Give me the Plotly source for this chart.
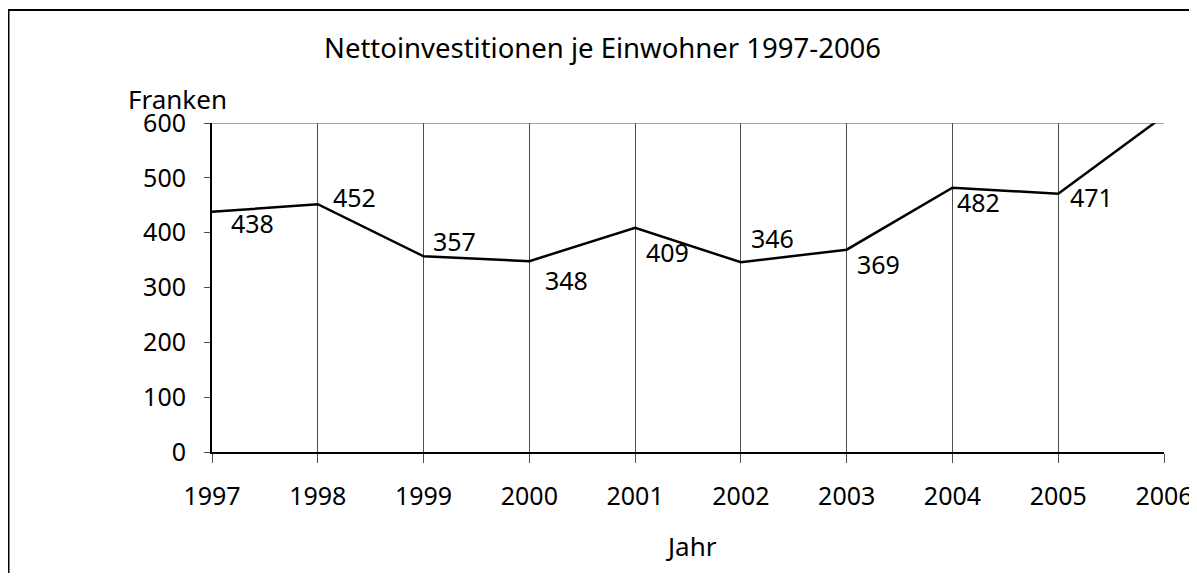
import plotly.graph_objects as go

years = [1997, 1998, 1999, 2000, 2001, 2002, 2003, 2004, 2005, 2006]
values = [438, 452, 357, 348, 409, 346, 369, 482, 471, 613]
y_ticks = [0, 100, 200, 300, 400, 500, 600]
title_text = "Nettoinvestitionen je Einwohner 1997-2006"
y_title = "Franken"
x_title = "Jahr"

# label offsets in pixels (style only)
label_dx = [40, 37, 31, 37, 32, 32, 32, 26, 33, -22]
label_dy = [11, -7, -15, 19, 24, -24, 14, 14, 3, -11]

FONT = "Noto Sans"
OFF = 8  # page body margin
WE, H = 1197 - OFF, 581 - 2 * OFF   # effective drawing size (no vertical overflow)
W = WE + OFF
L, T = 212 - OFF, 123 - OFF
R = WE - (1164 - OFF)
B = H - (452 - OFF)
pw, ph = WE - L - R, H - T - B


def pp(xs, ys):
    """screen pixel -> paper coords"""
    xf, yf = xs - OFF, ys - OFF
    return (xf - L) / pw, 1 - (yf - T) / ph


fig = go.Figure()
fig.add_trace(go.Scatter(x=years, y=values, mode="lines",
                         line=dict(color="black", width=2.5),
                         hoverinfo="x+y", showlegend=False))

for x, v, dx, dy in zip(years, values, label_dx, label_dy):
    fig.add_annotation(x=x, y=v, xref="x", yref="y", text=str(v),
                       showarrow=False, xshift=dx, yshift=-dy,
                       font=dict(family=FONT, size=25, color="black"))

for txt, xs, ys, size in [(title_text, 602, 48, 27.5),
                          (y_title, 177, 99, 26),
                          (x_title, 691, 546, 26)]:
    xx, yy = pp(xs, ys)
    fig.add_annotation(x=xx, y=yy, xref="paper", yref="paper", text=txt,
                       showarrow=False, xanchor="center", yanchor="middle",
                       font=dict(family=FONT, size=size, color="black"))

# outer frame: only left and top edges are inside the picture
fx0, fy1 = pp(8.5, 10)
fx1, fy0 = pp(1260, 640)

fig.update_layout(
    width=W, height=H,
    margin=dict(l=L, r=R, t=T, b=B),
    paper_bgcolor="white", plot_bgcolor="white",
    font=dict(family=FONT, size=25, color="black"),
    xaxis=dict(range=[1997, 2006], tickmode="array", tickvals=years,
               ticktext=[str(y) for y in years],
               showgrid=True, gridcolor="#4d4d4d", gridwidth=1,
               showline=True, linecolor="black", linewidth=2,
               ticks="outside", ticklen=9, tickcolor="#4d4d4d", tickwidth=1,
               ticklabelstandoff=12, zeroline=False, fixedrange=True),
    yaxis=dict(range=[0, 600], tickmode="array", tickvals=y_ticks,
               showgrid=False, showline=True, linecolor="black", linewidth=2,
               ticks="outside", ticklen=6, tickcolor="#4d4d4d", tickwidth=1,
               ticklabelstandoff=13, zeroline=False, fixedrange=True),
    shapes=[
        dict(type="line", xref="x", yref="y", x0=1997, x1=2006, y0=600, y1=600,
             line=dict(color="#4d4d4d", width=1)),
        dict(type="rect", xref="paper", yref="paper",
             x0=fx0, x1=fx1, y0=fy0, y1=fy1,
             line=dict(color="black", width=2), layer="below"),
    ],
)

fig.write_html("out.html")
